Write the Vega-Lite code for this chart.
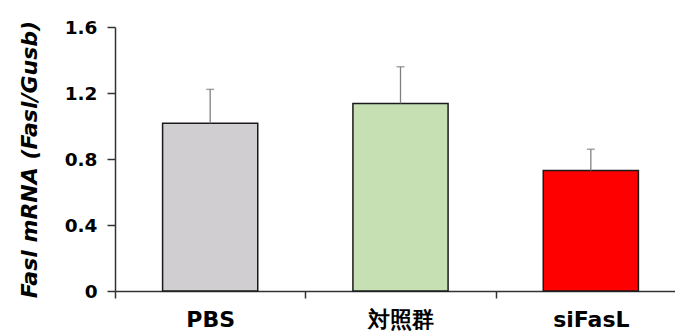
{
  "$schema": "https://vega.github.io/schema/vega-lite/v6.json",
  "autosize": "none",
  "width": 571,
  "height": 264,
  "padding": {"left": 115, "top": 27, "right": 0, "bottom": 40},
  "background": "white",
  "config": {"view": {"stroke": null}},
  "data": {"values": [
    {"group": "PBS", "mean": 1.016, "upper": 1.222},
    {"group": "対照群", "mean": 1.137, "upper": 1.359},
    {"group": "siFasL", "mean": 0.731, "upper": 0.859}
  ]},
  "encoding": {
    "x": {
      "field": "group", "type": "nominal", "sort": null,
      "scale": {"paddingInner": 0, "paddingOuter": 0},
      "axis": {
        "title": null, "labelAngle": 0, "tickBand": "extent",
        "labelFont": "DejaVu Sans", "labelFontWeight": "bold", "labelFontSize": 22, "labelColor": "black",
        "labelBaseline": "alphabetic", "labelPadding": 28,
        "tickSize": 7, "tickColor": "#333", "tickWidth": 1.5,
        "domainColor": "#333", "domainWidth": 1.5
      }
    }
  },
  "layer": [
    {
      "mark": {"type": "bar", "width": {"band": 0.5}, "stroke": "#1a1a1a", "strokeWidth": 1.5},
      "encoding": {
        "y": {
          "field": "mean", "type": "quantitative",
          "scale": {"domain": [0, 1.6], "nice": false},
          "axis": {
            "title": "Fasl mRNA (Fasl/Gusb)", "values": [0, 0.4, 0.8, 1.2, 1.6],
            "labelExpr": "datum.value == 0 ? '0' : format(datum.value, '.1f')",
            "grid": false, "labelFont": "DejaVu Sans", "labelFontWeight": "bold", "labelFontSize": 18.5, "labelColor": "black",
            "labelPadding": 10, "tickSize": 8, "tickColor": "#333", "tickWidth": 1.5,
            "domainColor": "#333", "domainWidth": 1.5,
            "titleFont": "DejaVu Sans", "titleFontWeight": "bold", "titleFontStyle": "italic", "titleFontSize": 22,
            "titleColor": "black", "titlePadding": 23
          }
        },
        "color": {
          "field": "group", "type": "nominal", "legend": null,
          "scale": {"domain": ["PBS", "対照群", "siFasL"], "range": ["#d0ced0", "#c6e0b4", "#ff0000"]}
        }
      }
    },
    {
      "mark": {"type": "rule", "color": "#808080", "strokeWidth": 1.3},
      "encoding": {
        "y": {"field": "mean", "type": "quantitative"},
        "y2": {"field": "upper"}
      }
    },
    {
      "mark": {"type": "tick", "color": "#808080", "size": 8, "thickness": 1.5},
      "encoding": {
        "y": {"field": "upper", "type": "quantitative"}
      }
    }
  ]
}
